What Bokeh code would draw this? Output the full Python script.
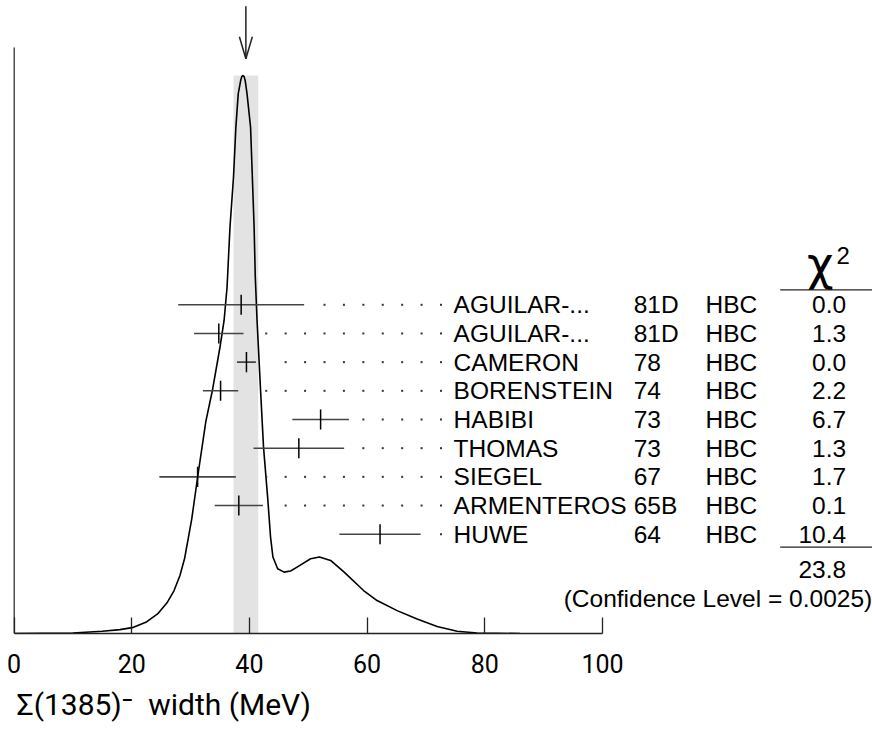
from bokeh.plotting import figure
from bokeh.models import Range1d, LinearAxis, Title, FixedTicker
from bokeh.embed import file_html
from bokeh.resources import INLINE
from bokeh.core.properties import value

# ---- data ----
# ideogram curve (x in MeV, height relative to peak)
curve_x = [0, 5, 10, 15, 18.0, 20.3, 22.4, 24.4, 26.0, 27.2, 28.2, 29.0, 30.2, 31.2,
           32.6, 33.7, 35.0, 35.7, 36.2, 36.7, 37.3, 37.7, 38.1, 38.5, 38.7, 38.9,
           39.1, 39.3, 39.6, 40.2, 40.5, 40.8, 41.0, 41.3, 41.9, 42.4, 43.1, 43.6,
           44.0, 44.8, 45.9, 47.0, 48.1, 50.4, 51.9, 53.8, 56.1, 59.4, 61.7, 65.1,
           68.5, 71.9, 75.3, 78.7, 82.0, 86.0]
curve_y = [0.0, 0.0005, 0.001, 0.004, 0.007, 0.011, 0.02, 0.035, 0.055, 0.077, 0.104,
           0.135, 0.205, 0.28, 0.38, 0.435, 0.513, 0.561, 0.62, 0.728, 0.818, 0.907,
           0.967, 0.99, 0.998, 1.0, 0.998, 0.99, 0.967, 0.907, 0.818, 0.728, 0.639,
           0.561, 0.435, 0.334, 0.244, 0.172, 0.137, 0.116, 0.110, 0.112, 0.119,
           0.134, 0.137, 0.131, 0.110, 0.077, 0.059, 0.041, 0.026, 0.0125, 0.004,
           0.001, 0.0003, 0.0]

names = ["AGUILAR-...", "AGUILAR-...", "CAMERON", "BORENSTEIN", "HABIBI",
         "THOMAS", "SIEGEL", "ARMENTEROS", "HUWE"]
years = ["81D", "81D", "78", "74", "73", "73", "67", "65B", "64"]
techs = ["HBC", "HBC", "HBC", "HBC", "HBC", "HBC", "HBC", "HBC", "HBC"]
values = [38.6, 34.8, 39.5, 35.1, 52.1, 48.4, 31.2, 38.2, 62.2]
errors = [10.7, 4.2, 1.6, 3.0, 4.8, 7.7, 6.5, 4.1, 6.9]
chi2 = ["0.0", "1.3", "0.0", "2.2", "6.7", "1.3", "1.7", "0.1", "10.4"]
chi2_total = "23.8"
conf_text = "(Confidence Level = 0.0025)"
avg = 39.4
avg_err = 2.1
x_ticks = [0, 20, 40, 60, 80, 100]
x_label = "\u03a3(1385)\u207b\u2002width (MeV)"

# ---- layout helpers ----
n = len(names)
rows = [n - 1 - i for i in range(n)]          # top row first
lo = [v - e for v, e in zip(values, errors)]
hi = [v + e for v, e in zip(values, errors)]
peak = max(curve_y)

p = figure(width=872, height=732, output_backend="svg", toolbar_location=None,
           x_range=Range1d(-0.085, 145.88), y_range=Range1d(0, 1.1344),
           x_axis_location=None, y_axis_location=None,
           min_border_left=13, min_border_right=0, min_border_top=0,
           min_border_bottom=99)
p.extra_y_ranges = {"rows": Range1d(-3.462, 18.61)}
p.outline_line_color = None
p.grid.visible = False
p.background_fill_color = "white"
p.border_fill_color = "white"

# x axis
xaxis = LinearAxis(ticker=FixedTicker(ticks=x_ticks), bounds=(0, 100),
                   major_tick_in=16, major_tick_out=0,
                   minor_tick_in=0, minor_tick_out=0,
                   axis_line_width=1.6, axis_line_color="#222",
                   major_tick_line_width=1.3, major_tick_line_color="#222",
                   major_label_text_font="Roboto",
                   major_label_text_font_size="25px",
                   major_label_text_color="black",
                   major_label_standoff=20)
p.add_layout(xaxis, "below")
p.add_layout(Title(text=x_label, align="left", offset=3, standoff=18,
                   text_font="Roboto", text_font_size="30px",
                   text_font_style="normal", text_color="black"), "below")

# left frame line
p.segment(x0=[0], x1=[0], y0=[0], y1=[1.05], line_color="#222", line_width=1.6)

# average band and ideogram
p.quad(left=[avg - avg_err], right=[avg + avg_err], bottom=[0], top=[peak],
       fill_color="#e3e3e3", line_color=None)
p.line(curve_x, curve_y, line_color="black", line_width=1.6, line_join="round")

# arrow marking the average
tip = 1.030
p.segment(x0=[avg], x1=[avg], y0=[tip], y1=[1.124], line_color="#222", line_width=1.5)
p.segment(x0=[avg - 1.1, avg + 1.1], x1=[avg, avg], y0=[tip + 0.0394, tip + 0.0394],
          y1=[tip, tip], line_color="#222", line_width=1.5)

# measurements
p.segment(x0=lo, x1=hi, y0=rows, y1=rows, y_range_name="rows",
          line_color="#444", line_width=1.6)
p.segment(x0=values, x1=values, y0=[r - 0.35 for r in rows],
          y1=[r + 0.35 for r in rows], y_range_name="rows",
          line_color="black", line_width=1.5)

# dotted leaders on a common grid
dx, dy = [], []
for h, r in zip(hi, rows):
    for k in range(-3, 10):
        gx = 42.86 + 3.3 * k
        if gx > h + 2.2:
            dx.append(gx)
            dy.append(r)
p.scatter(dx, dy, marker="square", size=2, fill_color="#333", line_color=None,
          y_range_name="rows")

fnt = value("Liberation Sans")
p.text(x=[74.7] * n, y=rows, text=names, text_font=fnt, text_font_size="24.5px",
       text_baseline="middle", text_align="left", y_range_name="rows")
p.text(x=[105.3] * n, y=rows, text=years, text_font=fnt, text_font_size="24.5px",
       text_baseline="middle", text_align="left", y_range_name="rows")
p.text(x=[117.5] * n, y=rows, text=techs, text_font=fnt, text_font_size="24.5px",
       text_baseline="middle", text_align="left", y_range_name="rows")
p.text(x=[141.4] * n, y=rows, text=chi2, text_font=fnt, text_font_size="24.5px",
       text_baseline="middle", text_align="right", y_range_name="rows")

# chi2 header, separators, total
p.text(x=[137.0], y=[9.42], text=["\u03c7"], text_font=value("DejaVu Sans"),
       text_font_size="46px", text_baseline="middle", text_align="center",
       y_range_name="rows")
p.text(x=[140.9], y=[9.72], text=["2"], text_font=fnt, text_font_size="24px",
       text_baseline="middle", text_align="center", y_range_name="rows")
p.segment(x0=[130.2, 130.2], x1=[147, 147], y0=[8.52, -0.45], y1=[8.52, -0.45],
          y_range_name="rows", line_color="#222", line_width=1.3)
p.text(x=[141.4], y=[-1.23], text=[chi2_total], text_font=fnt, text_font_size="24.5px",
       text_baseline="middle", text_align="right", y_range_name="rows")
p.text(x=[145.83], y=[-2.24], text=[conf_text], text_font=fnt, text_font_size="24.5px",
       text_baseline="middle", text_align="right", y_range_name="rows")

open("out.html", "w").write(file_html(p, INLINE))
